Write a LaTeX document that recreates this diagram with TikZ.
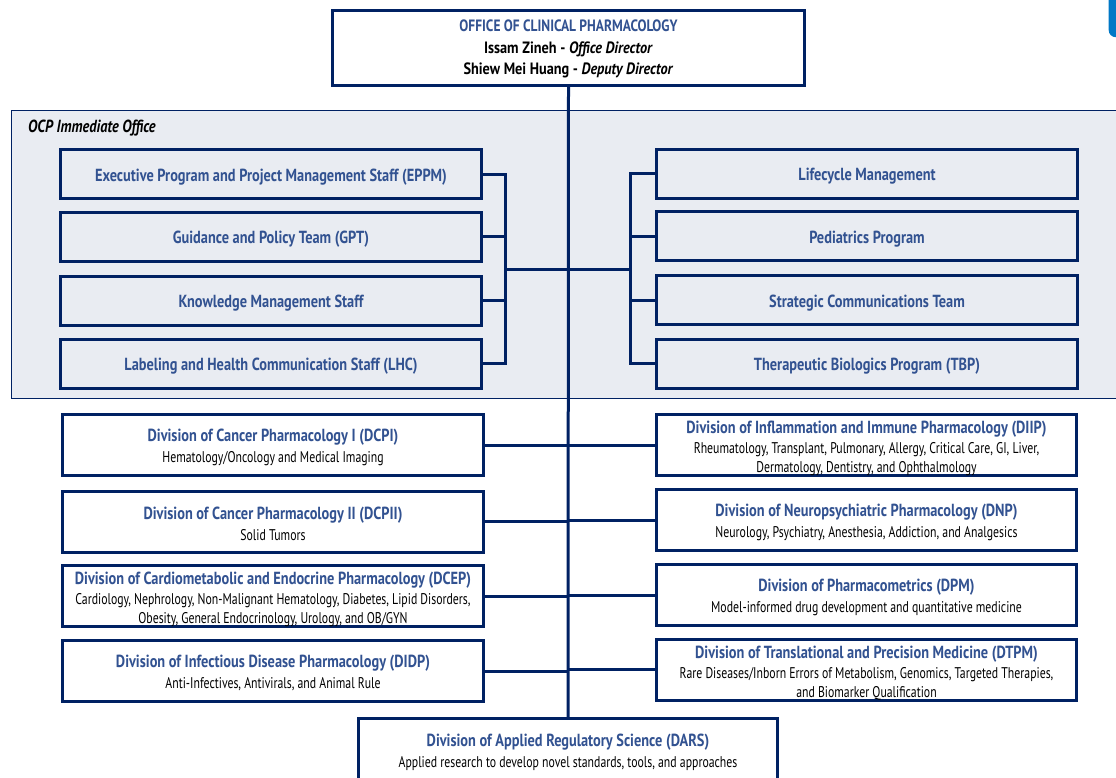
\documentclass[tikz,border=0pt]{standalone}
\usepackage{fontspec}
\setmainfont{PT Sans}[FakeStretch=0.76]
\newfontfamily\tf{PT Sans}[FakeStretch=0.82]
\newfontfamily\nf{PT Sans}[FakeStretch=0.87]
\definecolor{navy}{RGB}{0,33,99}
\definecolor{ttl}{RGB}{50,82,145}
\definecolor{iobg}{RGB}{233,236,242}
\definecolor{tab}{RGB}{0,120,198}
\newcommand{\sub}[1]{{\rmfamily\mdseries\fontsize{15.5}{19}\selectfont\color{black}#1}}
\newcommand{\nm}[1]{{\nf\color{black}#1}}
\newcommand{\hd}[2]{\rule{0pt}{#1pt}#2}
\begin{document}
\begin{tikzpicture}[x=1pt,y=-1pt,
  box/.style={draw=navy,line width=3pt,inner sep=0pt,align=center,
    font=\tf\bfseries\fontsize{17.5}{19}\selectfont,text=ttl},
  iob/.style={box,minimum width=421pt,minimum height=49pt,text height=18pt,text depth=4pt},
  divb/.style={box,fill=white,minimum width=421pt,minimum height=61pt,inner ysep=-8pt},
  wire/.style={draw=navy,line width=3pt},
  iobox/.style={draw=navy,fill=iobg,line width=1.3pt,inner sep=0pt,
    minimum width=1130pt,minimum height=288pt,anchor=north west},
]
\useasboundingbox (0,0) rectangle (1116,777);
\clip (0,0) rectangle (1116,777);
% corner tab
\node[fill=tab,rounded corners=7pt,minimum width=20pt,minimum height=44pt,inner sep=0pt,anchor=north west] (tabn) at (1108.5,-7) {};
% immediate office container
\node[iobox] (io) at (10.65,109.65) {};
\node[anchor=west,inner sep=0pt,font=\tf\bfseries\itshape\fontsize{17.5}{20}\selectfont] (iolab) at (28,128.5) {OCP Immediate Office};
% top box
\node[box,fill=white,minimum width=472pt,minimum height=75pt,font=\tf\bfseries\fontsize{16.4}{21.5}\selectfont] (top) at (568.5,48) {\hd{14}{OFFICE OF CLINICAL PHARMACOLOGY}\\
  \nm{Issam Zineh - \textit{Office Director}}\\
  \nm{Shiew Mei Huang - \textit{Deputy Director}}};
% DARS
\node[divb,minimum width=419pt,minimum height=64pt] (dars) at (568,750.5) {\hd{16}{Division of Applied Regulatory Science (DARS)}\\[2pt]
  \sub{Applied research to develop novel standards, tools, and approaches}};
% trunk
\draw[wire] (top.south) -- (dars.north);
% immediate office boxes left
\node[iob] (eppm) at (271,174) {Executive Program and Project Management Staff (EPPM)};
\node[iob] (gpt) at (271,236.5) {Guidance and Policy Team (GPT)};
\node[iob] (kms) at (271,300.5) {Knowledge Management Staff};
\node[iob] (lhc) at (271,363.5) {Labeling and Health Communication Staff (LHC)};
% right
\node[iob] (lcm) at (867,173.5) {Lifecycle Management};
\node[iob] (ped) at (867,236) {Pediatrics Program};
\node[iob] (sct) at (867,300) {Strategic Communications Team};
\node[iob] (tbp) at (867,363.5) {Therapeutic Biologics Program (TBP)};
% brackets
\coordinate (lb) at (505.5,269);
\coordinate (rb) at (630.5,269);
\foreach \n in {eppm,gpt,kms,lhc} \draw[wire] (\n.east) -| (lb);
\foreach \n in {lcm,ped,sct,tbp} \draw[wire] (\n.west) -| (rb);
\draw[wire] (lb) -- (rb);
% divisions left
\node[divb] (dcpi) at (273,445) {\hd{17}{Division of Cancer Pharmacology I (DCPI)}\\[2pt]
  \sub{Hematology/Oncology and Medical Imaging}};
\node[divb] (dcpii) at (273,521.5) {\hd{17}{Division of Cancer Pharmacology II (DCPII)}\\[2pt]
  \sub{Solid Tumors}};
\node[divb] (dcep) at (273,596) {\hd{20}{Division of Cardiometabolic and Endocrine Pharmacology (DCEP)}\\[1pt]
  \sub{Cardiology, Nephrology, Non-Malignant Hematology, Diabetes, Lipid Disorders,}\\
  \sub{Obesity, General Endocrinology, Urology, and OB/GYN}};
\node[divb] (didp) at (273,671) {\hd{17}{Division of Infectious Disease Pharmacology (DIDP)}\\[2pt]
  \sub{Anti-Infectives, Antivirals, and Animal Rule}};
% divisions right
\node[divb,minimum width=420pt] (diip) at (866.5,445) {\hd{20}{Division of Inflammation and Immune Pharmacology (DIIP)}\\[1pt]
  \sub{Rheumatology, Transplant, Pulmonary, Allergy, Critical Care, GI, Liver,}\\
  \sub{Dermatology, Dentistry, and Ophthalmology}};
\node[divb,minimum width=420pt] (dnp) at (866.5,520) {\hd{17}{Division of Neuropsychiatric Pharmacology (DNP)}\\[2pt]
  \sub{Neurology, Psychiatry, Anesthesia, Addiction, and Analgesics}};
\node[divb,minimum width=420pt] (dpm) at (866.5,595) {\hd{17}{Division of Pharmacometrics (DPM)}\\[2pt]
  \sub{Model-informed drug development and quantitative medicine}};
\node[divb,minimum width=420pt] (dtpm) at (866.5,669.5) {\hd{20}{Division of Translational and Precision Medicine (DTPM)}\\[1pt]
  \sub{Rare Diseases/Inborn Errors of Metabolism, Genomics, Targeted Therapies,}\\
  \sub{and Biomarker Qualification}};
% division connectors
\foreach \n in {dcpi,dcpii,dcep,didp} \draw[wire] (\n.east) -- (\n.east -| top.south);
\foreach \n in {diip,dnp,dpm,dtpm} \draw[wire] (\n.west) -- (\n.west -| top.south);
\end{tikzpicture}
\end{document}
